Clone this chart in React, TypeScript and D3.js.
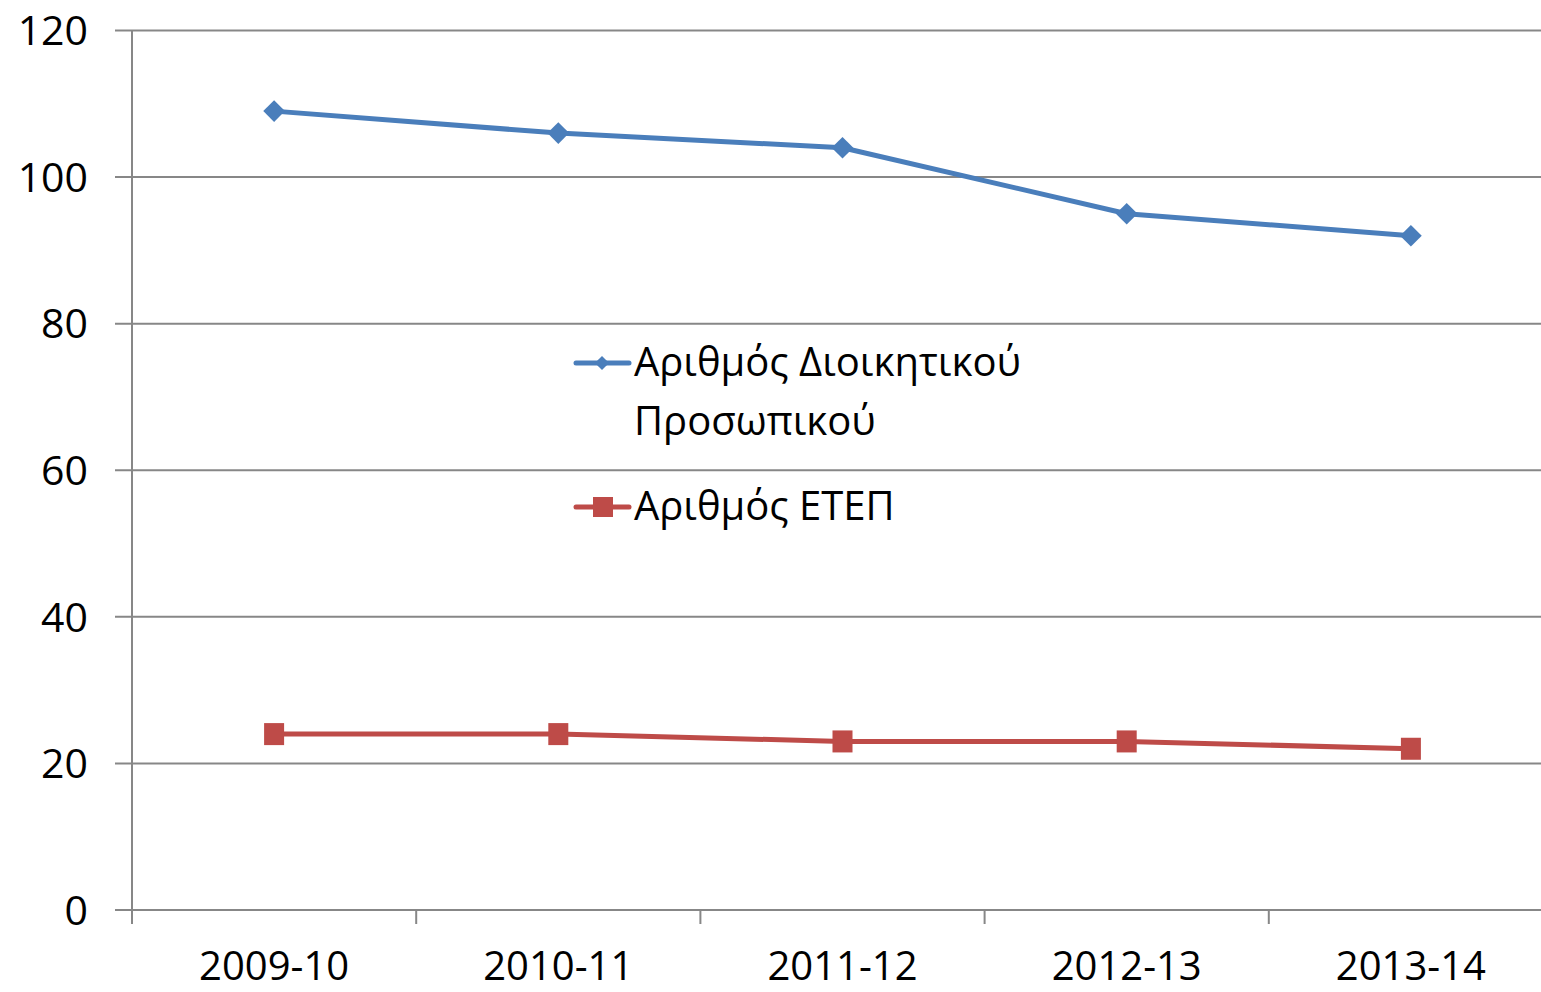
import React from "react";
import * as d3 from "d3";

const categories = ["2009-10", "2010-11", "2011-12", "2012-13", "2013-14"];
const adminStaff = [109, 106, 104, 95, 92];
const etepStaff = [24, 24, 23, 23, 22];
const yTicks = [0, 20, 40, 60, 80, 100, 120];
const seriesNames = ["Αριθμός Διοικητικού", "Προσωπικού"];
const seriesName2 = "Αριθμός ΕΤΕΠ";

const W = 1541;
const H = 992;
const FONT = "'Open Sans', 'Noto Sans', sans-serif";
const BLUE = "#4a7ebb";
const RED = "#be4b48";
const GRID = "#878787";

export default function App() {
  const x = d3.scaleBand<string>().domain(categories).range([132, 1553]).padding(0);
  const y = d3.scaleLinear().domain([0, 120]).range([910, 30.5]);
  const cx = (c: string) => (x(c) as number) + x.bandwidth() / 2;
  const line = d3
    .line<number>()
    .x((_, i) => cx(categories[i]))
    .y((d) => y(d));
  const diamond = d3.symbol().type(d3.symbolSquare).size(235);
  const smallDiamond = d3.symbol().type(d3.symbolSquare).size(100);

  return (
    <svg
      width={W}
      height={H}
      style={{ position: "absolute", left: 0, top: 0, background: "#fff" }}
      fontFamily={FONT}
    >
      <rect x={0} y={0} width={W} height={H} fill="#fff" />
      {yTicks.map((t) => (
        <g key={t}>
          <line x1={115} x2={W} y1={y(t)} y2={y(t)} stroke={GRID} strokeWidth={2} />
          <text x={88} y={y(t)} dy="0.36em" textAnchor="end" fontSize={41} fill="#000">
            {t}
          </text>
        </g>
      ))}
      <line x1={132} x2={132} y1={y(120)} y2={924} stroke={GRID} strokeWidth={2} />
      {categories.slice(1).map((c) => (
        <line key={c} x1={x(c)} x2={x(c)} y1={y(0)} y2={924} stroke={GRID} strokeWidth={2} />
      ))}
      {categories.map((c) => (
        <text key={c} x={cx(c)} y={980} textAnchor="middle" fontSize={40} fill="#000">
          {c}
        </text>
      ))}
      <path d={line(adminStaff) || ""} fill="none" stroke={BLUE} strokeWidth={5} strokeLinejoin="round" />
      {adminStaff.map((v, i) => (
        <path
          key={i}
          d={diamond() || ""}
          transform={`translate(${cx(categories[i])},${y(v)}) rotate(45)`}
          fill={BLUE}
        />
      ))}
      <path d={line(etepStaff) || ""} fill="none" stroke={RED} strokeWidth={5} />
      {etepStaff.map((v, i) => (
        <rect key={i} x={cx(categories[i]) - 10} y={y(v) - 11} width={20} height={22} fill={RED} />
      ))}
      {/* legend */}
      <g>
        <line x1={576} x2={629} y1={363} y2={363} stroke={BLUE} strokeWidth={5} strokeLinecap="round" />
        <path d={smallDiamond() || ""} transform="translate(602,363) rotate(45)" fill={BLUE} />
        <text x={634} y={376} fontSize={40} fill="#000">{seriesNames[0]}</text>
        <text x={634} y={435} fontSize={40} fill="#000">{seriesNames[1]}</text>
        <line x1={576} x2={629} y1={507} y2={507} stroke={RED} strokeWidth={5} strokeLinecap="round" />
        <rect x={593} y={497} width={20} height={20} fill={RED} />
        <text x={634} y={520} fontSize={40} fill="#000">{seriesName2}</text>
      </g>
    </svg>
  );
}
